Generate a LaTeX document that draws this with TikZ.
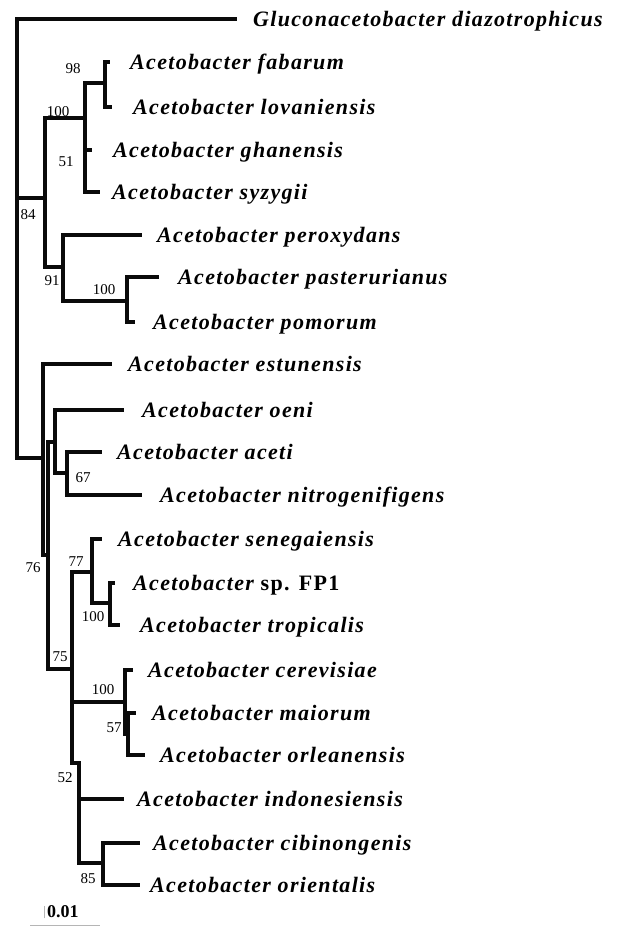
\documentclass[tikz,border=0pt]{standalone}
\usepackage{fontspec}
\setmainfont{Liberation Serif}
\newfontfamily\taxfont[LetterSpace=6]{Liberation Serif}
\usepackage{tikz}
\definecolor{TreeInk}{HTML}{0A0A0A}
\definecolor{BarGrey}{HTML}{B5B5B5}

\begin{document}
\begin{tikzpicture}[x=1pt,y=-1pt,
  branch/.style={TreeInk,line width=3.4pt,line cap=rect,line join=miter},
  taxon/.style={anchor=base west,yshift=-7pt,inner sep=0pt,
    font=\taxfont\fontsize{22}{26}\selectfont\bfseries\itshape},
  boot/.style={inner sep=0pt,font=\fontsize{15}{17}\selectfont}]
\path[use as bounding box] (0,0) rectangle (619,927);
% internal nodes
\coordinate (root) at (17,198);
\coordinate (n84) at (45,198);
\coordinate (n100a) at (85,118);
\coordinate (n98) at (105,83);
\coordinate (n91) at (63,267);
\coordinate (n100b) at (127,301);
\coordinate (n76) at (43,458);
\coordinate (n75) at (48,555);
\coordinate (nOen) at (55,442);
\coordinate (n67) at (67,473);
\coordinate (n72) at (72,669);
\coordinate (n77) at (92,572);
\coordinate (n100d) at (110,603);
\coordinate (n100c) at (125,702);
\coordinate (n57) at (128,734);
\coordinate (n52) at (79,763);
\coordinate (n85) at (103,863);
% tips
\coordinate (tGlu) at (235,19);
\coordinate (tFab) at (108,62);
\coordinate (tLov) at (110,107);
\coordinate (tGha) at (90,150);
\coordinate (tSyz) at (98,192);
\coordinate (tPer) at (140,235);
\coordinate (tPas) at (157,277);
\coordinate (tPom) at (133,322);
\coordinate (tEst) at (110,364);
\coordinate (tOen) at (122,410);
\coordinate (tAce) at (100,452);
\coordinate (tNit) at (140,495);
\coordinate (tSen) at (100,539);
\coordinate (tFP1) at (113,583);
\coordinate (tTro) at (118,625);
\coordinate (tCer) at (131,670);
\coordinate (tMai) at (134,713);
\coordinate (tOrl) at (143,755);
\coordinate (tInd) at (122,799);
\coordinate (tCib) at (138,843);
\coordinate (tOri) at (138,885);
\foreach \p/\c in {root/tGlu,root/n84,root/n76,
    n84/n100a,n84/n91,n100a/n98,n100a/tGha,n100a/tSyz,n98/tFab,n98/tLov,
    n91/tPer,n91/n100b,n100b/tPas,n100b/tPom,
    n76/tEst,n76/n75,n75/nOen,n75/n72,nOen/tOen,nOen/n67,n67/tAce,n67/tNit,
    n72/n77,n72/n100c,n72/n52,n77/tSen,n77/n100d,n100d/tFP1,n100d/tTro,
    n100c/tCer,n100c/n57,n57/tMai,n57/tOrl,n52/tInd,n52/n85,n85/tCib,n85/tOri}
  \draw[branch] (\p) |- (\c);
% taxa
\node[taxon] (lGlu) at (253,19) {Gluconacetobacter diazotrophicus};
\node[taxon] (lFab) at (130,62) {Acetobacter fabarum};
\node[taxon] (lLov) at (133,107) {Acetobacter lovaniensis};
\node[taxon] (lGha) at (113,150) {Acetobacter ghanensis};
\node[taxon] (lSyz) at (112,192) {Acetobacter syzygii};
\node[taxon] (lPer) at (157,235) {Acetobacter peroxydans};
\node[taxon] (lPas) at (178,277) {Acetobacter pasterurianus};
\node[taxon] (lPom) at (153,322) {Acetobacter pomorum};
\node[taxon] (lEst) at (128,364) {Acetobacter estunensis};
\node[taxon] (lOen) at (142,410) {Acetobacter oeni};
\node[taxon] (lAce) at (117,452) {Acetobacter aceti};
\node[taxon] (lNit) at (160,495) {Acetobacter nitrogenifigens};
\node[taxon] (lSen) at (118,539) {Acetobacter senegaiensis};
\node[taxon] (lFP1) at (133,583) {Acetobacter \upshape sp. FP1};
\node[taxon] (lTro) at (140,625) {Acetobacter tropicalis};
\node[taxon] (lCer) at (148,670) {Acetobacter cerevisiae};
\node[taxon] (lMai) at (152,713) {Acetobacter maiorum};
\node[taxon] (lOrl) at (160,755) {Acetobacter orleanensis};
\node[taxon] (lInd) at (137,799) {Acetobacter indonesiensis};
\node[taxon] (lCib) at (153,843) {Acetobacter cibinongenis};
\node[taxon] (lOri) at (150,885) {Acetobacter orientalis};
% bootstrap values
\node[boot] (b98) at (73,69) {98};
\node[boot] (b100a) at (58,112) {100};
\node[boot] (b51) at (66,162) {51};
\node[boot] (b84) at (28,215) {84};
\node[boot] (b91) at (52,281) {91};
\node[boot] (b100b) at (104,290) {100};
\node[boot] (b67) at (83,478) {67};
\node[boot] (b76) at (33,568) {76};
\node[boot] (b77) at (76,562) {77};
\node[boot] (b100d) at (93,617) {100};
\node[boot] (b75) at (60,657) {75};
\node[boot] (b100c) at (103,690) {100};
\node[boot] (b57) at (114,728) {57};
\node[boot] (b52) at (65,778) {52};
\node[boot] (b85) at (88,879) {85};
% scale
\coordinate (sbL) at (30,925);
\coordinate (sbR) at (100,925);
\draw[BarGrey,line width=1pt] (sbL) -- (sbR);
\node[inner sep=0pt,anchor=west,font=\fontsize{18}{20}\selectfont\bfseries] (sbT) at (47,912) {0.01};
\draw[BarGrey,line width=.8pt] ([xshift=-3pt]sbT.south west) -- ([xshift=-3pt]sbT.north west);
\end{tikzpicture}
\end{document}
